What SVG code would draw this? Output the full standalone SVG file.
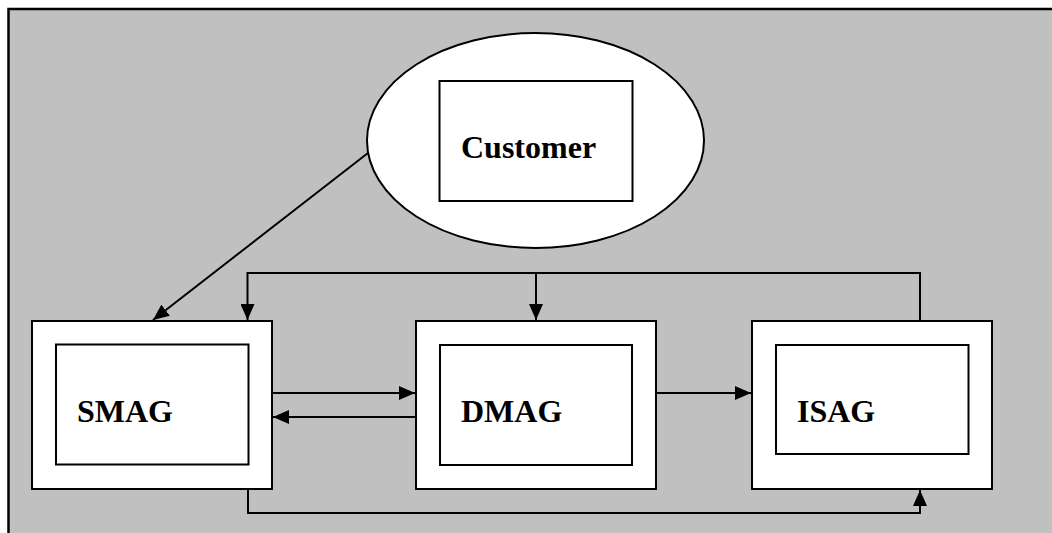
<svg xmlns="http://www.w3.org/2000/svg" width="1052" height="533" viewBox="0 0 1052 533">
  <style>
    .frame { fill: #c0c0c0; stroke: #000; stroke-width: 2.5; }
    .box { fill: #fff; stroke: #000; stroke-width: 2; }
    .wire { fill: none; stroke: #000; stroke-width: 2; }
    .label { font-family: "Liberation Serif", "Times New Roman", serif; font-weight: bold; font-size: 32px; fill: #000; }
  </style>
  <defs>
    <marker id="arrow" viewBox="0 0 16 14" refX="16" refY="7" markerWidth="16" markerHeight="14" markerUnits="userSpaceOnUse" orient="auto">
      <path d="M0,0 L16,7 L0,14 Z" fill="#000"/>
    </marker>
  </defs>

  <rect x="0" y="0" width="1052" height="533" fill="#fff"/>
  <rect class="frame" x="8.5" y="9" width="1060" height="540"/>

  <g id="customer">
    <ellipse class="box" cx="535.5" cy="140.5" rx="168.5" ry="107.5"/>
    <rect class="box" x="439.5" y="81" width="193" height="120"/>
    <text class="label" x="461" y="158">Customer</text>
  </g>

  <g id="smag">
    <rect class="box" x="32" y="321" width="240" height="168"/>
    <rect class="box" x="56" y="344.5" width="192.5" height="120"/>
    <text class="label" x="77" y="422">SMAG</text>
  </g>

  <g id="dmag">
    <rect class="box" x="416" y="321" width="240" height="168"/>
    <rect class="box" x="440" y="345" width="192" height="120"/>
    <text class="label" x="461" y="422">DMAG</text>
  </g>

  <g id="isag">
    <rect class="box" x="752" y="321" width="240" height="168"/>
    <rect class="box" x="776" y="345" width="192.5" height="109"/>
    <text class="label" x="797" y="422">ISAG</text>
  </g>

  <g id="connectors">
    <line class="wire" x1="368.3" y1="152.7" x2="153" y2="320" marker-end="url(#arrow)"/>
    <path class="wire" d="M920,321 V273 H247.5 V320" marker-end="url(#arrow)"/>
    <line class="wire" x1="536" y1="273" x2="536" y2="320" marker-end="url(#arrow)"/>
    <line class="wire" x1="272" y1="393" x2="415" y2="393" marker-end="url(#arrow)"/>
    <line class="wire" x1="416" y1="417" x2="273" y2="417" marker-end="url(#arrow)"/>
    <line class="wire" x1="656" y1="393" x2="751" y2="393" marker-end="url(#arrow)"/>
    <path class="wire" d="M248,489 V513 H920 V490" marker-end="url(#arrow)"/>
  </g>
</svg>
